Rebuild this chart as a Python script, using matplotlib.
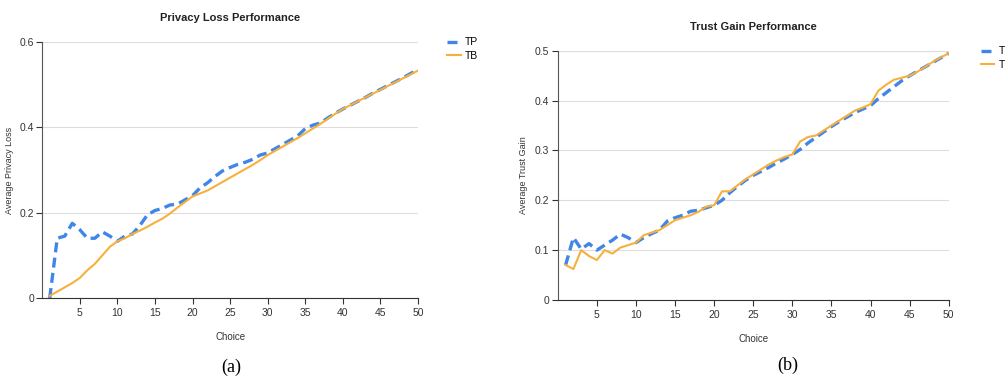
import matplotlib
matplotlib.use("Agg")
import matplotlib.pyplot as plt

choice = list(range(1, 51))

# privacy loss (left panel)
loss_tp = [0.0, 0.14, 0.145, 0.175, 0.16, 0.14, 0.14, 0.155, 0.145, 0.133,
           0.145, 0.15, 0.17, 0.195, 0.205, 0.21, 0.218, 0.22, 0.23, 0.24,
           0.258, 0.27, 0.285, 0.298, 0.306, 0.313, 0.318, 0.325, 0.335, 0.34,
           0.35, 0.36, 0.37, 0.38, 0.397, 0.405, 0.41, 0.422, 0.433, 0.443,
           0.452, 0.461, 0.47, 0.48, 0.489, 0.498, 0.507, 0.516, 0.526, 0.535]
loss_tb = [0.005, 0.015, 0.025, 0.035, 0.047, 0.065, 0.08, 0.1, 0.12, 0.133,
           0.14, 0.15, 0.158, 0.167, 0.177, 0.186, 0.198, 0.212, 0.225, 0.238,
           0.245, 0.252, 0.262, 0.272, 0.282, 0.292, 0.302, 0.312, 0.323, 0.335,
           0.345, 0.355, 0.365, 0.375, 0.386, 0.397, 0.408, 0.42, 0.432, 0.443,
           0.452, 0.461, 0.47, 0.479, 0.488, 0.497, 0.506, 0.515, 0.524, 0.533]

# trust gain (right panel)
gain_tp = [0.07, 0.125, 0.102, 0.113, 0.1, 0.11, 0.12, 0.132, 0.125, 0.115,
           0.125, 0.133, 0.14, 0.158, 0.165, 0.17, 0.178, 0.18, 0.185, 0.19,
           0.2, 0.215, 0.228, 0.24, 0.25, 0.258, 0.266, 0.275, 0.283, 0.292,
           0.302, 0.315, 0.326, 0.337, 0.348, 0.358, 0.367, 0.376, 0.383, 0.39,
           0.404, 0.416, 0.428, 0.44, 0.45, 0.459, 0.468, 0.477, 0.486, 0.495]
gain_tb = [0.07, 0.062, 0.1, 0.088, 0.08, 0.1, 0.093, 0.105, 0.11, 0.115,
           0.13, 0.135, 0.14, 0.15, 0.16, 0.165, 0.17, 0.177, 0.187, 0.19,
           0.218, 0.218, 0.23, 0.242, 0.252, 0.262, 0.272, 0.28, 0.287, 0.292,
           0.318, 0.327, 0.33, 0.34, 0.35, 0.36, 0.37, 0.38, 0.386, 0.393,
           0.42, 0.432, 0.442, 0.446, 0.45, 0.458, 0.468, 0.478, 0.487, 0.495]

x_ticks = [5, 10, 15, 20, 25, 30, 35, 40, 45, 50]
loss_yticks = [0, 0.2, 0.4, 0.6]
gain_yticks = [0, 0.1, 0.2, 0.3, 0.4, 0.5]

BLUE = "#3f86e8"
ORANGE = "#f8b03c"
plt.rcParams['font.family'] = ['Liberation Sans Narrow', 'Liberation Sans', 'DejaVu Sans']


def style_axis(ax, yticks, ylabel, title, ylab_x, leg_anchor):
    ax.set_xlim(0, 50)
    ax.set_ylim(0, yticks[-1])
    ax.set_xticks(x_ticks)
    ax.set_yticks(yticks)
    ax.set_yticklabels(["0" if t == 0 else f"{t:g}" for t in yticks])
    ax.grid(axis="y", color="#dddddd", lw=0.8)
    ax.set_axisbelow(True)
    for s in ["top", "right"]:
        ax.spines[s].set_visible(False)
    ax.spines["left"].set_color("#555555")
    ax.spines["bottom"].set_color("#333333")
    ax.tick_params(axis="both", labelsize=7.5, colors="#333333", length=4, width=0.8)
    ax.tick_params(axis="y", pad=2)
    ax.set_ylabel(ylabel, fontsize=6.5, color="#333333")
    ax.yaxis.set_label_coords(ylab_x, 0.5)
    ax.set_xlabel("Choice", fontsize=7, color="#333333", labelpad=10)
    ax.set_title(title, fontsize=8, color="#222222", pad=15, fontweight="bold")
    ax.legend(frameon=False, loc="upper left", bbox_to_anchor=leg_anchor,
              handlelength=1.3, handletextpad=0.4, fontsize=7.5, labelspacing=0.35)


fig = plt.figure(figsize=(10.05, 3.85), dpi=100)

ax1 = fig.add_axes([0.042, 0.226, 0.374, 0.665])
ax1.plot(choice, loss_tp, color=BLUE, lw=2.4, ls=(0, (3, 1.6)), label="TP")
ax1.plot(choice, loss_tb, color=ORANGE, lw=1.5, label="TB")
style_axis(ax1, loss_yticks, "Average Privacy Loss", "Privacy Loss Performance",
           -0.075, (1.052, 1.055))

ax2 = fig.add_axes([0.555, 0.221, 0.389, 0.647])
ax2.plot(choice, gain_tp, color=BLUE, lw=2.4, ls=(0, (3, 1.6)), label="TP")
ax2.plot(choice, gain_tb, color=ORANGE, lw=1.5, label="TB")
style_axis(ax2, gain_yticks, "Average Trust Gain", "Trust Gain Performance",
           -0.075, (1.058, 1.055))

fig.text(0.23, 0.035, "(a)", family=["Liberation Serif", "DejaVu Serif"], fontsize=13, ha="center")
fig.text(0.784, 0.04, "(b)", family=["Liberation Serif", "DejaVu Serif"], fontsize=13, ha="center")

fig.savefig("out.png", dpi=100)
